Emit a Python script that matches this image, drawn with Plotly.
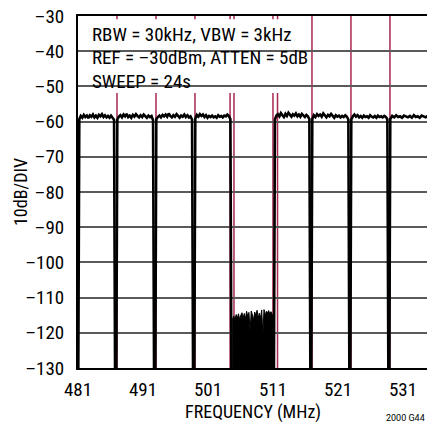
import numpy as np
import plotly.graph_objects as go

# ── Data ──────────────────────────────────────────────────────────────────────
X_RANGE = [481, 534.7]
Y_RANGE = [-130, -30]
X_TICKS = [481, 491, 501, 511, 521, 531]
Y_TICKS = [-30, -40, -50, -60, -70, -80, -90, -100, -110, -120, -130]
Y_TICKTEXT = ["–30", "–40", "–50", "–60", "–70", "–80", "–90", "–100", "–110", "–120", "–130"]

# active TV channels: flat top between lo/hi, falling to the floor outside
CH_LO = [481.2, 487.05, 493.05, 499.05, 511.3, 517.05, 523.05, 529.05]
CH_HI = [486.55, 492.55, 498.55, 504.45, 516.6, 522.6, 528.6, 536.0]
FLOOR = -130

CH_TOPS = [
    [-59.3, -58.4, -58.9, -58.1, -58.7, -58.3, -59.0, -58.2, -58.6, -58.0, -58.8, -58.3,
     -58.9, -58.1, -58.5, -57.9, -58.7, -58.2, -58.8, -58.4, -58.9, -58.3, -58.8, -59.5],
    [-59.4, -58.6, -58.2, -58.8, -58.0, -58.5, -57.8, -58.7, -58.3, -58.9, -58.1, -58.6,
     -57.9, -58.4, -58.8, -58.2, -58.7, -58.0, -58.5, -58.9, -58.3, -58.7, -58.4, -59.6],
    [-59.3, -58.7, -58.3, -58.8, -58.1, -58.5, -58.0, -58.6, -57.7, -58.4, -58.8, -58.2,
     -58.6, -57.9, -58.5, -58.9, -58.3, -58.6, -58.0, -58.7, -58.2, -58.8, -58.5, -59.4],
    [-59.2, -58.1, -58.6, -57.9, -58.4, -58.0, -58.7, -58.2, -58.9, -58.4, -58.7, -58.3,
     -58.8, -58.5, -58.9, -58.2, -58.6, -58.4, -58.8, -58.3, -58.5, -58.0, -58.4, -59.3],
    [-59.4, -58.3, -57.9, -58.5, -57.6, -58.2, -58.7, -57.8, -58.4, -57.5, -58.1, -58.6,
     -57.9, -58.3, -57.7, -58.5, -58.0, -58.6, -57.8, -58.3, -58.7, -58.1, -58.5, -59.3],
    [-59.3, -58.2, -58.7, -57.9, -58.4, -58.0, -58.6, -57.7, -58.2, -58.8, -58.1, -58.5,
     -57.8, -58.4, -58.9, -58.2, -58.6, -58.3, -58.8, -58.4, -58.7, -58.2, -58.6, -59.4],
    [-59.4, -58.5, -58.0, -58.6, -58.2, -58.8, -58.4, -58.9, -58.3, -58.7, -58.5, -58.9,
     -58.2, -58.6, -58.8, -58.4, -58.9, -58.3, -58.7, -58.5, -58.8, -58.4, -58.7, -59.3],
    [-59.3, -58.4, -58.8, -58.2, -58.7, -58.5, -58.9, -58.3, -58.6, -58.8, -58.4, -58.9,
     -58.2, -58.7, -58.5, -58.9, -58.3, -58.6, -58.8, -58.4, -58.7, -58.5, -58.8, -58.6],
]

# empty channel 505–511: noise floor envelope
NOISE_LO, NOISE_HI = 504.8, 511.05
NOISE_TOP = [-116.0, -115.2, -116.4, -114.8, -115.9, -114.6, -116.2, -115.0, -114.3, -115.8,
             -114.5, -116.1, -113.9, -115.3, -114.2, -119.5, -113.8, -114.9, -116.3, -114.1,
             -115.2, -113.6, -115.8, -114.4, -116.0, -113.5, -120.5, -113.4, -115.1, -113.9,
             -114.3, -113.7, -114.6, -114.0, -114.8, -115.4]

GRID_MHZ = [487, 493, 499, 505, 511, 517, 523, 529]
MARKER_MHZ = [504.4, 511.7]

SETTINGS = ["RBW = 30kHz, VBW = 3kHz", "REF = –30dBm, ATTEN = 5dB", "SWEEP = 24s"]

FONT = "Liberation Sans Narrow, Arial Narrow, Roboto Condensed, sans-serif"
CRIMSON = "#A8284E"

# ── Build traces ─────────────────────────────────────────────────────────────
xs, ys = [], []
for lo, hi, tops in zip(CH_LO, CH_HI, CH_TOPS):
    xs += [lo - 0.15] + list(np.linspace(lo, hi, len(tops))) + [hi + 0.15, None]
    ys += [FLOOR] + tops + [FLOOR, None]

nx = [NOISE_LO] + list(np.linspace(NOISE_LO, NOISE_HI, len(NOISE_TOP))) + [NOISE_HI]
ny = [FLOOR] + NOISE_TOP + [FLOOR]

fig = go.Figure()
fig.add_trace(go.Scatter(x=nx, y=ny, mode="lines", fill="toself", fillcolor="black",
                         line=dict(color="black", width=1), hoverinfo="skip"))
fig.add_trace(go.Scatter(x=xs, y=ys, mode="lines", line=dict(color="black", width=2.6),
                         hoverinfo="skip"))

# vertical grid (crimson) and marker lines
for f in GRID_MHZ + MARKER_MHZ:
    fig.add_shape(type="line", xref="x", yref="paper", x0=f, x1=f, y0=0, y1=1,
                  line=dict(color=CRIMSON, width=1.5), layer="between")

# white box behind the settings text
fig.add_shape(type="rect", xref="paper", yref="paper", x0=0.011, x1=0.665, y0=0.781, y1=0.991,
              fillcolor="white", line=dict(width=0), layer="between")

for txt, yy in zip(SETTINGS, [0.947, 0.883, 0.815]):
    fig.add_annotation(text=txt, xref="paper", yref="paper", x=0.034, y=yy,
                       xanchor="left", yanchor="middle", showarrow=False,
                       font=dict(size=19, color="black"))

fig.add_annotation(text="10dB/DIV", xref="paper", yref="paper", x=-0.166, y=0.50,
                   xanchor="center", yanchor="middle", textangle=-90, showarrow=False,
                   font=dict(size=18, color="black"))
fig.add_annotation(text="FREQUENCY (MHz)", xref="paper", yref="paper", x=0.5, y=-0.124,
                   xanchor="center", yanchor="middle", showarrow=False,
                   font=dict(size=18, color="black"))
fig.add_annotation(text="2000 G44", xref="paper", yref="paper", x=1.0, y=-0.142,
                   xanchor="right", yanchor="middle", showarrow=False,
                   font=dict(size=9, color="black",
                             family="Liberation Sans Narrow, Roboto, sans-serif"))

fig.update_layout(
    width=427, height=424,
    margin=dict(l=78, r=0, t=16, b=56),
    paper_bgcolor="white", plot_bgcolor="white",
    font=dict(family=FONT, size=19, color="black"),
    showlegend=False,
)
fig.update_xaxes(range=X_RANGE, tickvals=X_TICKS, showgrid=False, zeroline=False,
                 showline=True, linecolor="black", linewidth=2, mirror=True,
                 ticks="", ticklabelstandoff=3, ticklabeloverflow="allow")
fig.update_yaxes(range=Y_RANGE, tickvals=Y_TICKS, ticktext=Y_TICKTEXT, showgrid=True,
                 gridcolor="#5a5a5a", gridwidth=1.5, zeroline=False,
                 showline=True, linecolor="black", linewidth=2,
                 ticks="", ticklabelstandoff=8, ticklabeloverflow="allow")

# drop the default 8px body margin so the figure fills the window exactly
fig.write_html("out.html", config={"displayModeBar": False},
               post_script="document.body.style.margin='0';document.body.style.overflow='hidden';")
